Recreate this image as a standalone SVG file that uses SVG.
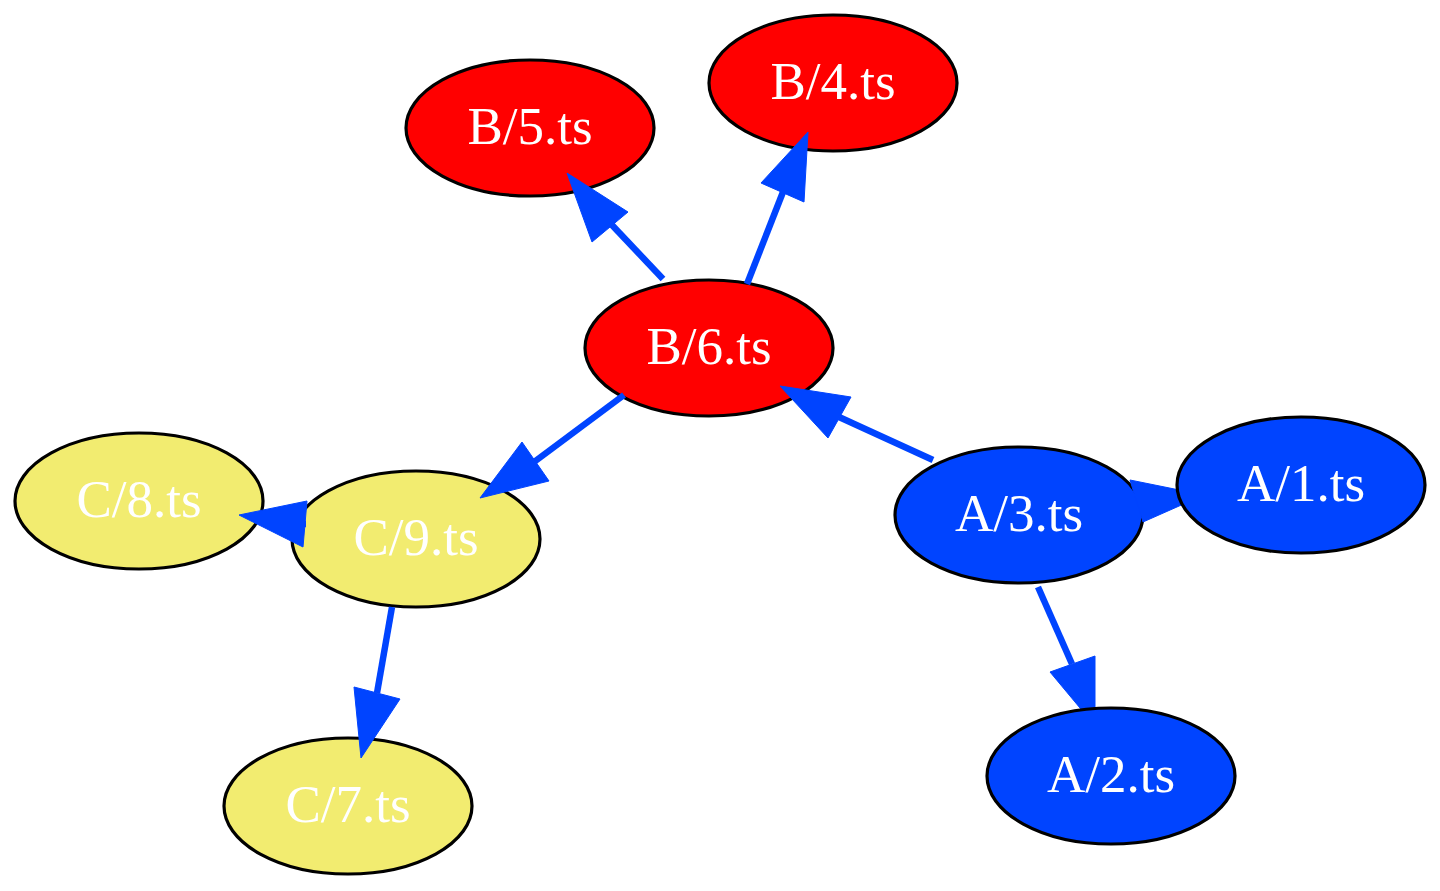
<svg xmlns="http://www.w3.org/2000/svg" width="1440" height="891" viewBox="0 0 1440 891">
<style>
.n ellipse{stroke:#000;stroke-width:3.2}
.red ellipse{fill:#ff0000}
.yel ellipse{fill:#f2ec70}
.blu ellipse{fill:#0044ff}
.n text{font-family:"Liberation Serif","Times New Roman",serif;font-size:53px;fill:#fff;text-anchor:middle}
.e line{stroke:#0044ff;stroke-width:6.5}
.e polygon{fill:#0044ff;stroke:#0044ff;stroke-width:1}
</style>
<rect width="1440" height="891" fill="#fff"/>
<g id="nodes">
<g id="B5" class="n red"><ellipse cx="530" cy="128" rx="124" ry="68"/><text x="530" y="144">B/5.ts</text></g>
<g id="B4" class="n red"><ellipse cx="833" cy="83" rx="124" ry="68"/><text x="833" y="99">B/4.ts</text></g>
<g id="B6" class="n red"><ellipse cx="709" cy="348" rx="124" ry="68"/><text x="709" y="364">B/6.ts</text></g>
<g id="C8" class="n yel"><ellipse cx="139" cy="501" rx="124" ry="68"/><text x="139" y="517">C/8.ts</text></g>
<g id="C9" class="n yel"><ellipse cx="416" cy="539" rx="124" ry="68"/><text x="416" y="555">C/9.ts</text></g>
<g id="C7" class="n yel"><ellipse cx="348" cy="806" rx="124" ry="68"/><text x="348" y="822">C/7.ts</text></g>
<g id="A3" class="n blu"><ellipse cx="1019" cy="515" rx="124" ry="68"/><text x="1019" y="531">A/3.ts</text></g>
</g>
<g id="connectors" class="e">
<g id="B6-B5"><line x1="663" y1="279" x2="611" y2="224"/><polygon points="567,173 592,242 628,212"/></g>
<g id="B6-B4"><line x1="747" y1="284" x2="783" y2="192"/><polygon points="808,132 761,183 804,202"/></g>
<g id="B6-C9"><line x1="624" y1="395" x2="534" y2="462"/><polygon points="480,498 522,442 549,481"/></g>
<g id="C9-C8"><line x1="298" y1="524" x2="306" y2="524"/><polygon points="239,515 307,501 303,547"/></g>
<g id="C9-C7"><line x1="392" y1="607" x2="377" y2="693"/><polygon points="361,758 354,687 400,699"/></g>
<g id="A3-B6"><line x1="933" y1="460" x2="839" y2="417"/><polygon points="780,386 851,397 828,438"/></g>
<g id="A3-A1"><line x1="1125" y1="501" x2="1137" y2="501"/><polygon points="1204,495 1130,480 1143,522"/></g>
<g id="A3-A2"><line x1="1038" y1="587" x2="1072" y2="664"/><polygon points="1095,726 1050,672 1095,656"/></g>
</g>
<g id="nodes-top">
<g id="A1" class="n blu"><ellipse cx="1301" cy="485" rx="124" ry="68"/><text x="1301" y="501">A/1.ts</text></g>
<g id="A2" class="n blu"><ellipse cx="1111" cy="776" rx="124" ry="68"/><text x="1111" y="792">A/2.ts</text></g>
</g>
</svg>
